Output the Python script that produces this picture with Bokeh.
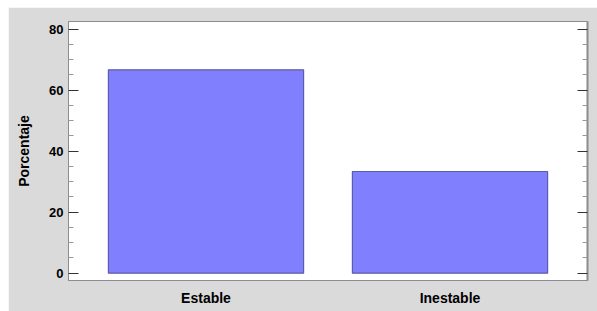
from bokeh.plotting import figure
from bokeh.models import (FactorRange, Range1d, LinearAxis, FixedTicker, ColumnDataSource,
                          CustomJSTickFormatter, Spacer)
from bokeh.layouts import row, column
from bokeh.embed import file_html
from bokeh.resources import INLINE

categories = ["Estable", "Inestable"]
percentages = [66.67, 33.33]
y_ticks = [0, 20, 40, 60, 80]
y_minor = [5, 10, 15, 25, 30, 35, 45, 50, 55, 65, 70, 75]

src = ColumnDataSource(dict(cat=categories, val=percentages))

p = figure(width=589, height=304, output_backend="svg", toolbar_location=None,
           x_range=FactorRange(*categories, range_padding=0.0635),
           y_range=Range1d(-2.4, 82.5),
           min_border_left=60, min_border_right=10, min_border_top=14, min_border_bottom=31)

p.vbar(x="cat", top="val", bottom=0, width=0.8, source=src,
       fill_color="#8080ff", line_color="#5c5ca8", line_width=1.2)

p.background_fill_color = "white"
p.border_fill_color = "#dadada"
p.outline_line_color = "#8c8c8c"
p.outline_line_width = 1
p.grid.visible = False

font = "Liberation Sans"

ya = p.yaxis[0]
ya.ticker = FixedTicker(ticks=y_ticks, minor_ticks=y_minor)
ya.axis_label = "Porcentaje"
ya.axis_label_text_font = font
ya.axis_label_text_font_style = "bold"
ya.axis_label_text_font_size = "14px"
ya.axis_label_text_color = "black"
ya.axis_label_standoff = 14
ya.major_label_text_font = font
ya.major_label_text_font_style = "bold"
ya.major_label_text_font_size = "13px"
ya.major_label_text_color = "black"
ya.major_label_standoff = 5
ya.major_tick_in = 10
ya.major_tick_out = 0
ya.minor_tick_in = 5
ya.minor_tick_out = 0
ya.major_tick_line_color = "#333333"
ya.minor_tick_line_color = "#999999"
ya.axis_line_color = "#8c8c8c"

ra = LinearAxis(ticker=FixedTicker(ticks=y_ticks, minor_ticks=y_minor),
                formatter=CustomJSTickFormatter(code="return ''"))
ra.major_label_standoff = 0
ra.major_tick_in = 10
ra.major_tick_out = 0
ra.minor_tick_in = 5
ra.minor_tick_out = 0
ra.major_tick_line_color = "#333333"
ra.minor_tick_line_color = "#999999"
ra.axis_line_color = "#8c8c8c"
ra.axis_line_width = 2
p.add_layout(ra, "right")

xa = p.xaxis[0]
xa.major_label_text_font = font
xa.major_label_text_font_style = "bold"
xa.major_label_text_font_size = "14px"
xa.major_label_text_color = "black"
xa.major_label_standoff = 9
xa.major_tick_in = 0
xa.major_tick_out = 0
xa.minor_tick_in = 0
xa.minor_tick_out = 0
xa.axis_line_color = "#8c8c8c"

layout = column(Spacer(height=7, width=597), row(Spacer(width=8, height=304), p))

open("out.html", "w").write(file_html(layout, INLINE))
